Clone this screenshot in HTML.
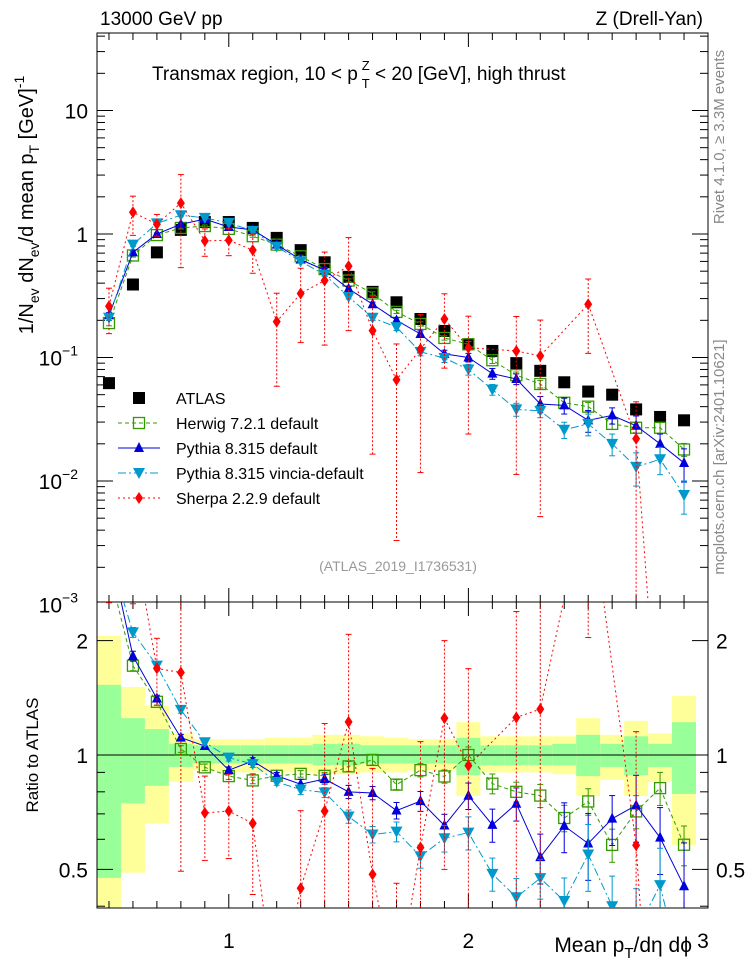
<!DOCTYPE html>
<html><head><meta charset="utf-8"><style>
html,body{margin:0;padding:0;background:#fff;overflow:hidden}
svg{display:block;font-family:"Liberation Sans",sans-serif;overflow:hidden}
</style></head><body>
<svg id="c" width="746" height="972" viewBox="0 0 746 972"></svg>
<script>
const xs=[0.5,0.6,0.7,0.8,0.9,1.0,1.1,1.2,1.3,1.4,1.5,1.6,1.7,1.8,1.9,2.0,2.1,2.2,2.3,2.4,2.5,2.6,2.7,2.8,2.9];
const atlas=[0.062,0.39,0.71,1.08,1.25,1.25,1.12,0.93,0.74,0.59,0.45,0.34,0.28,0.205,0.164,0.128,0.113,0.090,0.078,0.063,0.053,0.050,0.038,0.033,0.031];
const herwig=[0.19,0.67,0.98,1.12,1.16,1.1,0.96,0.82,0.66,0.52,0.42,0.33,0.234,0.187,0.144,0.128,0.095,0.072,0.061,0.043,0.040,0.029,0.027,0.027,0.018];
const pythia=[0.22,0.71,1.0,1.2,1.32,1.14,1.08,0.82,0.62,0.51,0.36,0.27,0.2,0.155,0.107,0.1,0.074,0.067,0.042,0.041,0.031,0.034,0.028,0.020,0.014];
const vincia=[0.21,0.82,1.22,1.42,1.35,1.23,1.06,0.79,0.6,0.47,0.31,0.21,0.176,0.111,0.099,0.08,0.055,0.038,0.037,0.026,0.029,0.020,0.013,0.015,0.0077];
const sherpa=[0.26,1.5,1.2,1.78,0.88,0.89,0.74,0.195,0.33,0.42,0.55,0.165,0.066,0.117,0.205,0.12,null,0.113,0.103,null,0.27,null,0.022,0.00005,null];
const herwigErr=[0.05,0.03,0.02,0.02,0.02,0.02,0.02,0.02,0.02,0.02,0.03,0.03,0.03,0.04,0.04,0.05,0.06,0.06,0.07,0.08,0.08,0.1,0.1,0.1,0.12];
const pythiaErr=[0.05,0.03,0.02,0.02,0.02,0.02,0.02,0.02,0.03,0.03,0.04,0.04,0.05,0.06,0.07,0.08,0.1,0.1,0.15,0.15,0.2,0.15,0.2,0.2,0.3];
const vinciaErr=[0.05,0.03,0.02,0.02,0.02,0.02,0.02,0.02,0.03,0.03,0.04,0.05,0.06,0.07,0.08,0.1,0.1,0.12,0.12,0.15,0.2,0.2,0.3,0.25,0.3];
const sherpaErr=[0.4,0.35,0.2,0.7,0.25,0.25,0.35,0.7,0.6,0.7,0.7,0.9,0.95,0.9,0.6,0.8,0,0.9,0.95,0,0.6,0,0.99,0.99,0];
const bandYHi=[2.06,1.51,1.35,1.14,1.1,1.1,1.1,1.11,1.11,1.13,1.13,1.12,1.11,1.1,1.1,1.22,1.12,1.12,1.12,1.12,1.25,1.13,1.23,1.14,1.43];
const bandGHi=[1.53,1.25,1.17,1.07,1.06,1.06,1.06,1.06,1.06,1.07,1.07,1.06,1.06,1.06,1.06,1.11,1.06,1.06,1.06,1.07,1.13,1.07,1.12,1.07,1.22];
const bandGLo=[0.475,0.746,0.83,0.93,0.95,0.95,0.95,0.95,0.95,0.94,0.94,0.95,0.95,0.95,0.95,0.885,0.94,0.94,0.94,0.94,0.88,0.93,0.885,0.93,0.79];
const bandYLo=[0.3,0.49,0.66,0.85,0.91,0.9,0.9,0.9,0.9,0.89,0.89,0.9,0.9,0.91,0.91,0.78,0.9,0.9,0.9,0.89,0.78,0.86,0.78,0.85,0.58];
const xTicks=["1","2","3"];
const yTicks=[{v:10,t:"10"},{v:1,t:"1"},{v:0.1,t:"10",e:"−1"},{v:0.01,t:"10",e:"−2"},{v:0.001,t:"10",e:"−3"}];
const rTicks=[{v:2,t:"2"},{v:1,t:"1"},{v:0.5,t:"0.5"}];

const NS="http://www.w3.org/2000/svg";
const svg=document.getElementById('c');
const L=97,R=708,T=33,MB=602,RB=908;
const X=v=>L+(v-0.45)*(R-L)/2.55;
const Y=v=>234-123.5*Math.log10(v);
const RY=v=>755-380*Math.log10(v);
function mk(tag,a,parent){const e=document.createElementNS(NS,tag);for(const k in a)e.setAttribute(k,a[k]);(parent||svg).appendChild(e);return e;}
function txt(s,a,parent){const e=mk('text',a,parent);e.textContent=s;return e;}

const defs=mk('defs',{});
const c1=mk('clipPath',{id:'cm'},defs);mk('rect',{x:L,y:T,width:R-L,height:MB-T},c1);
const c2=mk('clipPath',{id:'cr'},defs);mk('rect',{x:L,y:MB,width:R-L,height:RB-MB},c2);

const gBand=mk('g',{'clip-path':'url(#cr)'});


xs.forEach((x,i)=>{
  const x0=X(x-0.05),x1=X(x+0.05);
  const ry=mk('rect',{x:x0,y:RY(bandYHi[i]),width:x1-x0,height:RY(bandYLo[i])-RY(bandYHi[i]),fill:'#ffff99'},gBand);
  
  
  const rg=mk('rect',{x:x0,y:RY(bandGHi[i]),width:x1-x0,height:RY(bandGLo[i])-RY(bandGHi[i]),fill:'#99ff99'},gBand);
  
  
});
mk('line',{x1:L,x2:R,y1:RY(1),y2:RY(1),stroke:'#000','stroke-width':1});

const fm=mk('rect',{x:L,y:T,width:R-L,height:MB-T,fill:'none',stroke:'#000','stroke-width':1});

const fr=mk('rect',{x:L,y:MB,width:R-L,height:RB-MB,fill:'none',stroke:'#000','stroke-width':1});


for(let k=5;k<=30;k++){const v=k/10;if(v<0.45)continue;const px=X(v);const maj=(k%10===0);const len=maj?14:7;
  [[MB,-1],[T,1],[RB,-1],[MB,1]].forEach(([y0,d])=>mk('line',{x1:px,x2:px,y1:y0,y2:y0+d*len,stroke:'#000'}));}
xTicks.forEach(t=>{const e=txt(t,{x:Math.min(X(+t),703),y:948,'font-size':21,'text-anchor':'middle'});});

for(let d=-3;d<=1;d++){for(let m=1;m<10;m++){const v=m*Math.pow(10,d);const py=Y(v);if(py<T||py>MB)continue;const len=m===1?16:8;
  mk('line',{x1:L,x2:L+len,y1:py,y2:py,stroke:'#000'});mk('line',{x1:R,x2:R-len,y1:py,y2:py,stroke:'#000'});}}
yTicks.forEach(o=>{const e=txt('',{x:o.e?78:88,y:Y(o.v)+8,'font-size':21,'text-anchor':'end'});
  e.textContent=o.t;if(o.e){const s=mk('tspan',{dy:-10,'font-size':14},e);s.textContent=o.e;}});
[0.4,0.5,0.6,0.7,0.8,0.9,1,2].forEach(v=>{const py=RY(v);if(py<MB||py>RB)return;const len=(v===1||v===2||v===0.5)?16:8;
  mk('line',{x1:L,x2:L+len,y1:py,y2:py,stroke:'#000'});mk('line',{x1:R,x2:R-len,y1:py,y2:py,stroke:'#000'});});
rTicks.forEach(o=>{const e=txt(o.t,{x:88,y:RY(o.v)+8,'font-size':21,'text-anchor':'end'});
  const e2=txt(o.t,{x:716,y:RY(o.v)+8,'font-size':21});});

const series=[
 {name:'herwig',vals:herwig,err:herwigErr,col:'#339900',dash:'4,3',mark:'sq'},
 {name:'pythia',vals:pythia,err:pythiaErr,col:'#0000dd',dash:'',mark:'tu'},
 {name:'vincia',vals:vincia,err:vinciaErr,col:'#0099cc',dash:'8,3,2,3',mark:'td'},
 {name:'sherpa',vals:sherpa,err:sherpaErr,col:'#ff0000',dash:'2,3',mark:'di'}];
function marker(g,type,cx,cy,col){
  let e;
  if(type==='sq')e=mk('rect',{x:cx-5.5,y:cy-5.5,width:11,height:11,fill:'#fff','fill-opacity':0,stroke:col,'stroke-width':1.3},g);
  else if(type==='tu')e=mk('polygon',{points:`${cx-5},${cy+4} ${cx+5},${cy+4} ${cx},${cy-6}`,fill:col},g);
  else if(type==='td')e=mk('polygon',{points:`${cx-6},${cy-5} ${cx+6},${cy-5} ${cx},${cy+6}`,fill:col},g);
  else if(type==='di')e=mk('polygon',{points:`${cx},${cy-6} ${cx+4},${cy} ${cx},${cy+6} ${cx-4},${cy}`,fill:col},g);
  else e=mk('rect',{x:cx-6,y:cy-6,width:12,height:12,fill:'#000'},g);
  return e;
}
function drawSeries(s,ratio){
  const g=mk('g',{'clip-path':ratio?'url(#cr)':'url(#cm)'});
  
  
  const fy=ratio?RY:Y;
  const pts=[];
  s.vals.forEach((v,i)=>{if(v==null)return;const val=ratio?v/atlas[i]:v;pts.push([X(xs[i]),fy(val),val,i]);});
  mk('polyline',{points:pts.map(p=>p[0]+','+Math.min(p[1],1200)).join(' '),fill:'none',stroke:s.col,'stroke-width':1,'stroke-dasharray':s.dash},g);
  pts.forEach(p=>{const e=s.err[p[3]];if(!e)return;const hi=fy(p[2]*(1+e)),lo=Math.min(fy(Math.max(p[2]*(1-e),1e-6)),1200);
    mk('line',{x1:p[0],x2:p[0],y1:hi,y2:lo,stroke:s.col,'stroke-dasharray':s.name==='sherpa'?'2,2':''},g);
    mk('line',{x1:p[0]-3,x2:p[0]+3,y1:hi,y2:hi,stroke:s.col},g);mk('line',{x1:p[0]-3,x2:p[0]+3,y1:lo,y2:lo,stroke:s.col},g);});
  pts.forEach(p=>{if(p[1]>1100)return;const m=marker(g,s.mark,p[0],p[1],s.col);});
}
const ga=mk('g',{'clip-path':'url(#cm)'});


atlas.forEach((v,i)=>{const m=marker(ga,'atlas',X(xs[i]),Y(v),'#000');});
series.forEach(s=>{drawSeries(s,false);drawSeries(s,true);});

const leg=mk('g',{});


const labels=[['ATLAS',null],['Herwig 7.2.1 default',series[0]],['Pythia 8.315 default',series[1]],['Pythia 8.315 vincia-default',series[2]],['Sherpa 2.2.9 default',series[3]]];
labels.forEach((l,i)=>{const y=398+i*25;const eg=mk('g',{},leg);
  
  
  if(l[1]){mk('line',{x1:118,x2:160,y1:y,y2:y,stroke:l[1].col,'stroke-dasharray':l[1].dash},eg);marker(eg,l[1].mark,139,y,l[1].col);}
  else marker(eg,'atlas',139,y,'#000');
  txt(l[0],{x:176,y:y+6,'font-size':16},eg);});

const t1=txt('13000 GeV pp',{x:100,y:25,'font-size':19});
const t2=txt('Z (Drell-Yan)',{x:703,y:25,'font-size':19,'text-anchor':'end'});
const t3=txt('',{x:152,y:80,'font-size':19});
t3.innerHTML='Transmax region, 10 &lt; p<tspan dx="4" dy="-10" font-size="13">Z</tspan><tspan dx="-8" dy="18" font-size="13">T</tspan><tspan dy="-8"> &lt; 20 [GeV], high thrust</tspan>';
const t4=txt('(ATLAS_2019_I1736531)',{x:398,y:571,'font-size':14,fill:'#999','text-anchor':'middle'});
const t5=txt('Rivet 4.1.0, ≥ 3.3M events',{x:0,y:0,'font-size':15,fill:'#888','text-anchor':'middle',transform:'translate(724,137) rotate(-90)'});
const t6=txt('mcplots.cern.ch [arXiv:2401.10621]',{x:0,y:0,'font-size':15,fill:'#888','text-anchor':'middle',transform:'translate(724,457) rotate(-90)'});
const t7=txt('',{x:0,y:0,'font-size':20,'text-anchor':'middle',transform:'translate(33,205) rotate(-90)'});
t7.innerHTML='1/N<tspan dy="6" font-size="14">ev</tspan><tspan dy="-6"> dN</tspan><tspan dy="6" font-size="14">ev</tspan><tspan dy="-6">/d mean p</tspan><tspan dy="6" font-size="14">T</tspan><tspan dy="-6"> [GeV]</tspan><tspan dy="-9" font-size="14">-1</tspan>';
const t8=txt('Ratio to ATLAS',{x:0,y:0,'font-size':17,'text-anchor':'middle',transform:'translate(38,755) rotate(-90)'});
const t9=txt('',{x:692,y:952,'font-size':21,'text-anchor':'end'});
t9.innerHTML='Mean p<tspan dy="6" font-size="15">T</tspan><tspan dy="-6">/dη dϕ</tspan>';
</script>
</body></html>
